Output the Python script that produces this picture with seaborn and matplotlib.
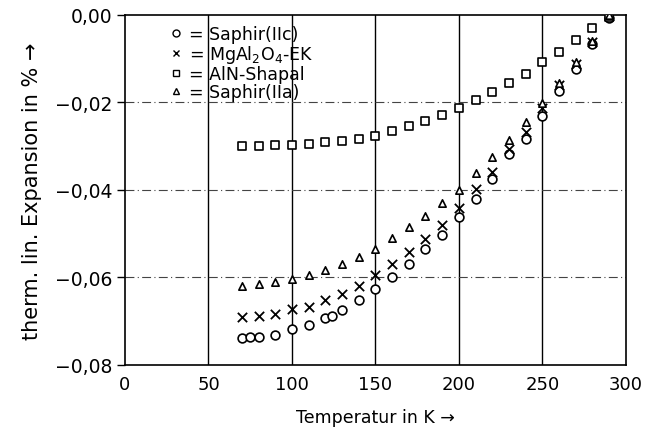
import matplotlib
matplotlib.use("Agg")
import matplotlib.pyplot as plt
import seaborn as sns
import pandas as pd
from matplotlib.ticker import FuncFormatter
from matplotlib.lines import Line2D

# ---- data ----
T_saph_c = [70, 75, 80, 90, 100, 110, 120, 124, 130, 140, 150, 160, 170, 180, 190, 200, 210, 220, 230, 240, 250, 260, 270, 280, 290]
v_saph_c = [-0.0738, -0.0736, -0.0737, -0.0731, -0.0718, -0.0709, -0.0693, -0.0688, -0.0674, -0.0651, -0.0627,
            -0.0599, -0.0569, -0.0535, -0.0503, -0.0462, -0.0421, -0.0375, -0.0318, -0.0283, -0.0231,
            -0.0174, -0.0123, -0.0066, -0.0006]

T_mgal = [70, 80, 90, 100, 110, 120, 130, 140, 150, 160, 170, 180, 190, 200, 210, 220, 230, 240, 250, 260, 270, 280, 290]
v_mgal = [-0.0690, -0.0688, -0.0683, -0.0672, -0.0667, -0.0651, -0.0638, -0.0619, -0.0594, -0.0569, -0.0542,
          -0.0512, -0.0480, -0.0441, -0.0398, -0.0359, -0.0306, -0.0267, -0.0212, -0.0160, -0.0112, -0.0061, -0.0002]

T_aln = [70, 80, 90, 100, 110, 120, 130, 140, 150, 160, 170, 180, 190, 200, 210, 220, 230, 240, 250, 260, 270, 280, 290]
v_aln = [-0.0300, -0.0299, -0.0298, -0.0297, -0.0296, -0.0291, -0.0288, -0.0283, -0.0277, -0.0265, -0.0254,
         -0.0242, -0.0229, -0.0213, -0.0194, -0.0176, -0.0155, -0.0135, -0.0107, -0.0085, -0.0057, -0.0030, -0.0005]

T_saph_a = [70, 80, 90, 100, 110, 120, 130, 140, 150, 160, 170, 180, 190, 200, 210, 220, 230, 240, 250, 260, 270, 280, 290]
v_saph_a = [-0.0619, -0.0615, -0.0610, -0.0603, -0.0594, -0.0583, -0.0569, -0.0553, -0.0535, -0.0510, -0.0485,
            -0.0460, -0.0430, -0.0400, -0.0361, -0.0325, -0.0286, -0.0245, -0.0201, -0.0155, -0.0107, -0.0059, 0.0000]

labels = ["= Saphir(IIc)", r"= MgAl$_2$O$_4$-EK", "= AlN-Shapal", "= Saphir(IIa)"]
xticks = [0, 50, 100, 150, 200, 250, 300]
yticks = [0.00, -0.02, -0.04, -0.06, -0.08]

sns.set_theme(style="white")
plt.rcParams['font.family'] = ['DejaVu Sans']
plt.rcParams['mathtext.fontset'] = 'dejavusans'
plt.rcParams['text.color'] = 'black'
plt.rcParams['axes.labelcolor'] = 'black'
plt.rcParams['xtick.color'] = 'black'
plt.rcParams['ytick.color'] = 'black'

fig = plt.figure(figsize=(6.56, 4.39), dpi=100)
ax = fig.add_axes([0.1905, 0.1663, 0.7635, 0.7973])

# grid lines
for xv in [50, 100, 150, 200, 250]:
    ax.axvline(xv, color="black", lw=1.0, zorder=1)
for yv in [-0.02, -0.04, -0.06]:
    ax.axhline(yv, color="#444444", lw=0.8, ls=(0, (8, 3, 1, 3)), zorder=1)

series = [
    (T_saph_c, v_saph_c, "o", 40),
    (T_mgal, v_mgal, "x", 45),
    (T_aln, v_aln, "s", 40),
    (T_saph_a, v_saph_a, "^", 28),
]
for (tx, vy, mk, sz) in series:
    df = pd.DataFrame({"T": tx, "v": vy})
    if mk == "x":
        sns.scatterplot(data=df, x="T", y="v", marker="x", s=sz, color="black",
                        linewidth=1.3, ax=ax, zorder=3)
    else:
        sns.scatterplot(data=df, x="T", y="v", marker=mk, s=sz, facecolor="white",
                        edgecolor="black", linewidth=1.2, ax=ax, zorder=3)

ax.set_xlim(0, 300)
ax.set_ylim(-0.08, 0.0)
ax.set_xticks(xticks)
ax.set_yticks(yticks)
ax.xaxis.set_major_formatter(FuncFormatter(lambda v, p: f"{int(v)}"))
ax.yaxis.set_major_formatter(FuncFormatter(lambda v, p: f"{v:.2f}".replace(".", ",").replace("-", "\u2212") if abs(v) > 1e-9 else "0,00"))
ax.tick_params(axis="y", direction="out", length=6, width=1, labelsize=13.5, left=True, pad=3, color="black")
ax.tick_params(axis="x", length=0, labelsize=13, pad=7)
for sp in ax.spines.values():
    sp.set_color("black")
    sp.set_linewidth(1.2)

ax.set_xlabel("Temperatur in K \u2192", fontsize=12.5, labelpad=11)
ax.set_ylabel("therm. lin. Expansion in % \u2192", fontsize=15, labelpad=9)

handles = [
    Line2D([], [], ls="", marker="o", ms=5, mfc="white", mec="black", mew=1.0),
    Line2D([], [], ls="", marker="x", ms=5, color="black", mew=1.0),
    Line2D([], [], ls="", marker="s", ms=5, mfc="white", mec="black", mew=1.0),
    Line2D([], [], ls="", marker="^", ms=4, mfc="white", mec="black", mew=1.0),
]
leg = ax.legend(handles, labels, loc="upper left", bbox_to_anchor=(0.075, 0.99),
                frameon=False, fontsize=12.5, handlelength=0.7, handletextpad=0.4,
                labelspacing=0.0, borderaxespad=0.0)

fig.savefig("out.png", dpi=100)
